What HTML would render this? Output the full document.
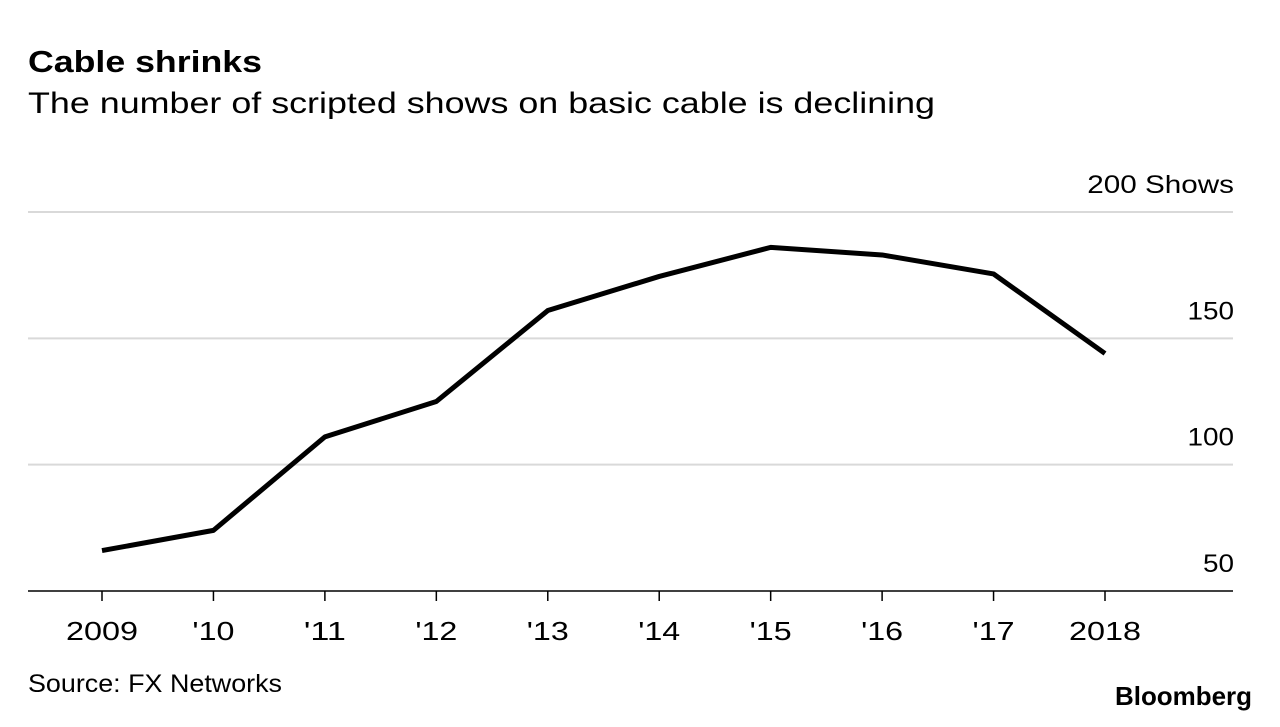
<!DOCTYPE html>
<html><head><meta charset="utf-8"><style>
body{margin:0;background:#fff;width:1280px;height:722px;overflow:hidden;font-family:"Liberation Sans",sans-serif;}
</style></head><body>
<svg width="1280" height="722" xmlns="http://www.w3.org/2000/svg">
<text x="28" y="72" font-size="31" font-weight="bold" fill="#000" textLength="234" lengthAdjust="spacingAndGlyphs">Cable shrinks</text>
<text x="28" y="113" font-size="30" fill="#000" textLength="907" lengthAdjust="spacingAndGlyphs">The number of scripted shows on basic cable is declining</text>
<g id="grid"></g>
<g id="xlabels"></g>
<path id="line" fill="none" stroke="#000" stroke-width="5" stroke-linejoin="round"></path>
<text x="28" y="692" font-size="25" fill="#000" textLength="254" lengthAdjust="spacingAndGlyphs">Source: FX Networks</text>
<text x="1252" y="705" font-size="26" font-weight="bold" text-anchor="end" fill="#000" textLength="137" lengthAdjust="spacingAndGlyphs">Bloomberg</text>
</svg>
<script>
const years=["2009","'10","'11","'12","'13","'14","'15","'16","'17","2018"];
const shows=[66,74,111,125,161,174.5,186,183,175.5,144];
const yTicks=[50,100,150,200];
const yTickLabels=["50","100","150","200 Shows"];
const ns="http://www.w3.org/2000/svg";
function xs(i){return 102+i*(1105-102)/(years.length-1);}
function ys(v){return 591-(v-50)*(591-212)/150;}
const grid=document.getElementById('grid');
yTicks.forEach((t,i)=>{
 const l=document.createElementNS(ns,'line');
 l.setAttribute('x1',28);l.setAttribute('x2',1233);
 l.setAttribute('y1',ys(t));l.setAttribute('y2',ys(t));
 l.setAttribute('stroke',i==0?'#000':'#d9d9d9');l.setAttribute('stroke-width',i==0?1.5:2);
 
 
 grid.appendChild(l);
 const tx=document.createElementNS(ns,'text');
 tx.setAttribute('x',1234);tx.setAttribute('y',ys(t)-19);
 tx.setAttribute('text-anchor','end');tx.setAttribute('font-size','25');
 tx.textContent=yTickLabels[i];
 tx.setAttribute('textLength',String(yTickLabels[i].length*(i==3?16.3:15.5)));
 tx.setAttribute('lengthAdjust','spacingAndGlyphs');
 
 
 grid.appendChild(tx);
});
const xl=document.getElementById('xlabels');
years.forEach((y,i)=>{
 const tk=document.createElementNS(ns,'line');
 tk.setAttribute('x1',xs(i));tk.setAttribute('x2',xs(i));
 tk.setAttribute('y1',591);tk.setAttribute('y2',601);
 tk.setAttribute('stroke','#000');tk.setAttribute('stroke-width',1.5);
 
 
 xl.appendChild(tk);
 const tx=document.createElementNS(ns,'text');
 tx.setAttribute('x',xs(i));tx.setAttribute('y',640);
 tx.setAttribute('text-anchor','middle');tx.setAttribute('font-size','26');
 tx.textContent=y;
 const apos=(y.match(/'/g)||[]).length;
 tx.setAttribute('textLength',String((y.length-apos)*18+apos*6));
 tx.setAttribute('lengthAdjust','spacingAndGlyphs');
 
 
 xl.appendChild(tx);
});
document.getElementById('line').setAttribute('d',shows.map((v,i)=>(i?'L':'M')+xs(i)+','+ys(v)).join(' '));
</script>
</body></html>
